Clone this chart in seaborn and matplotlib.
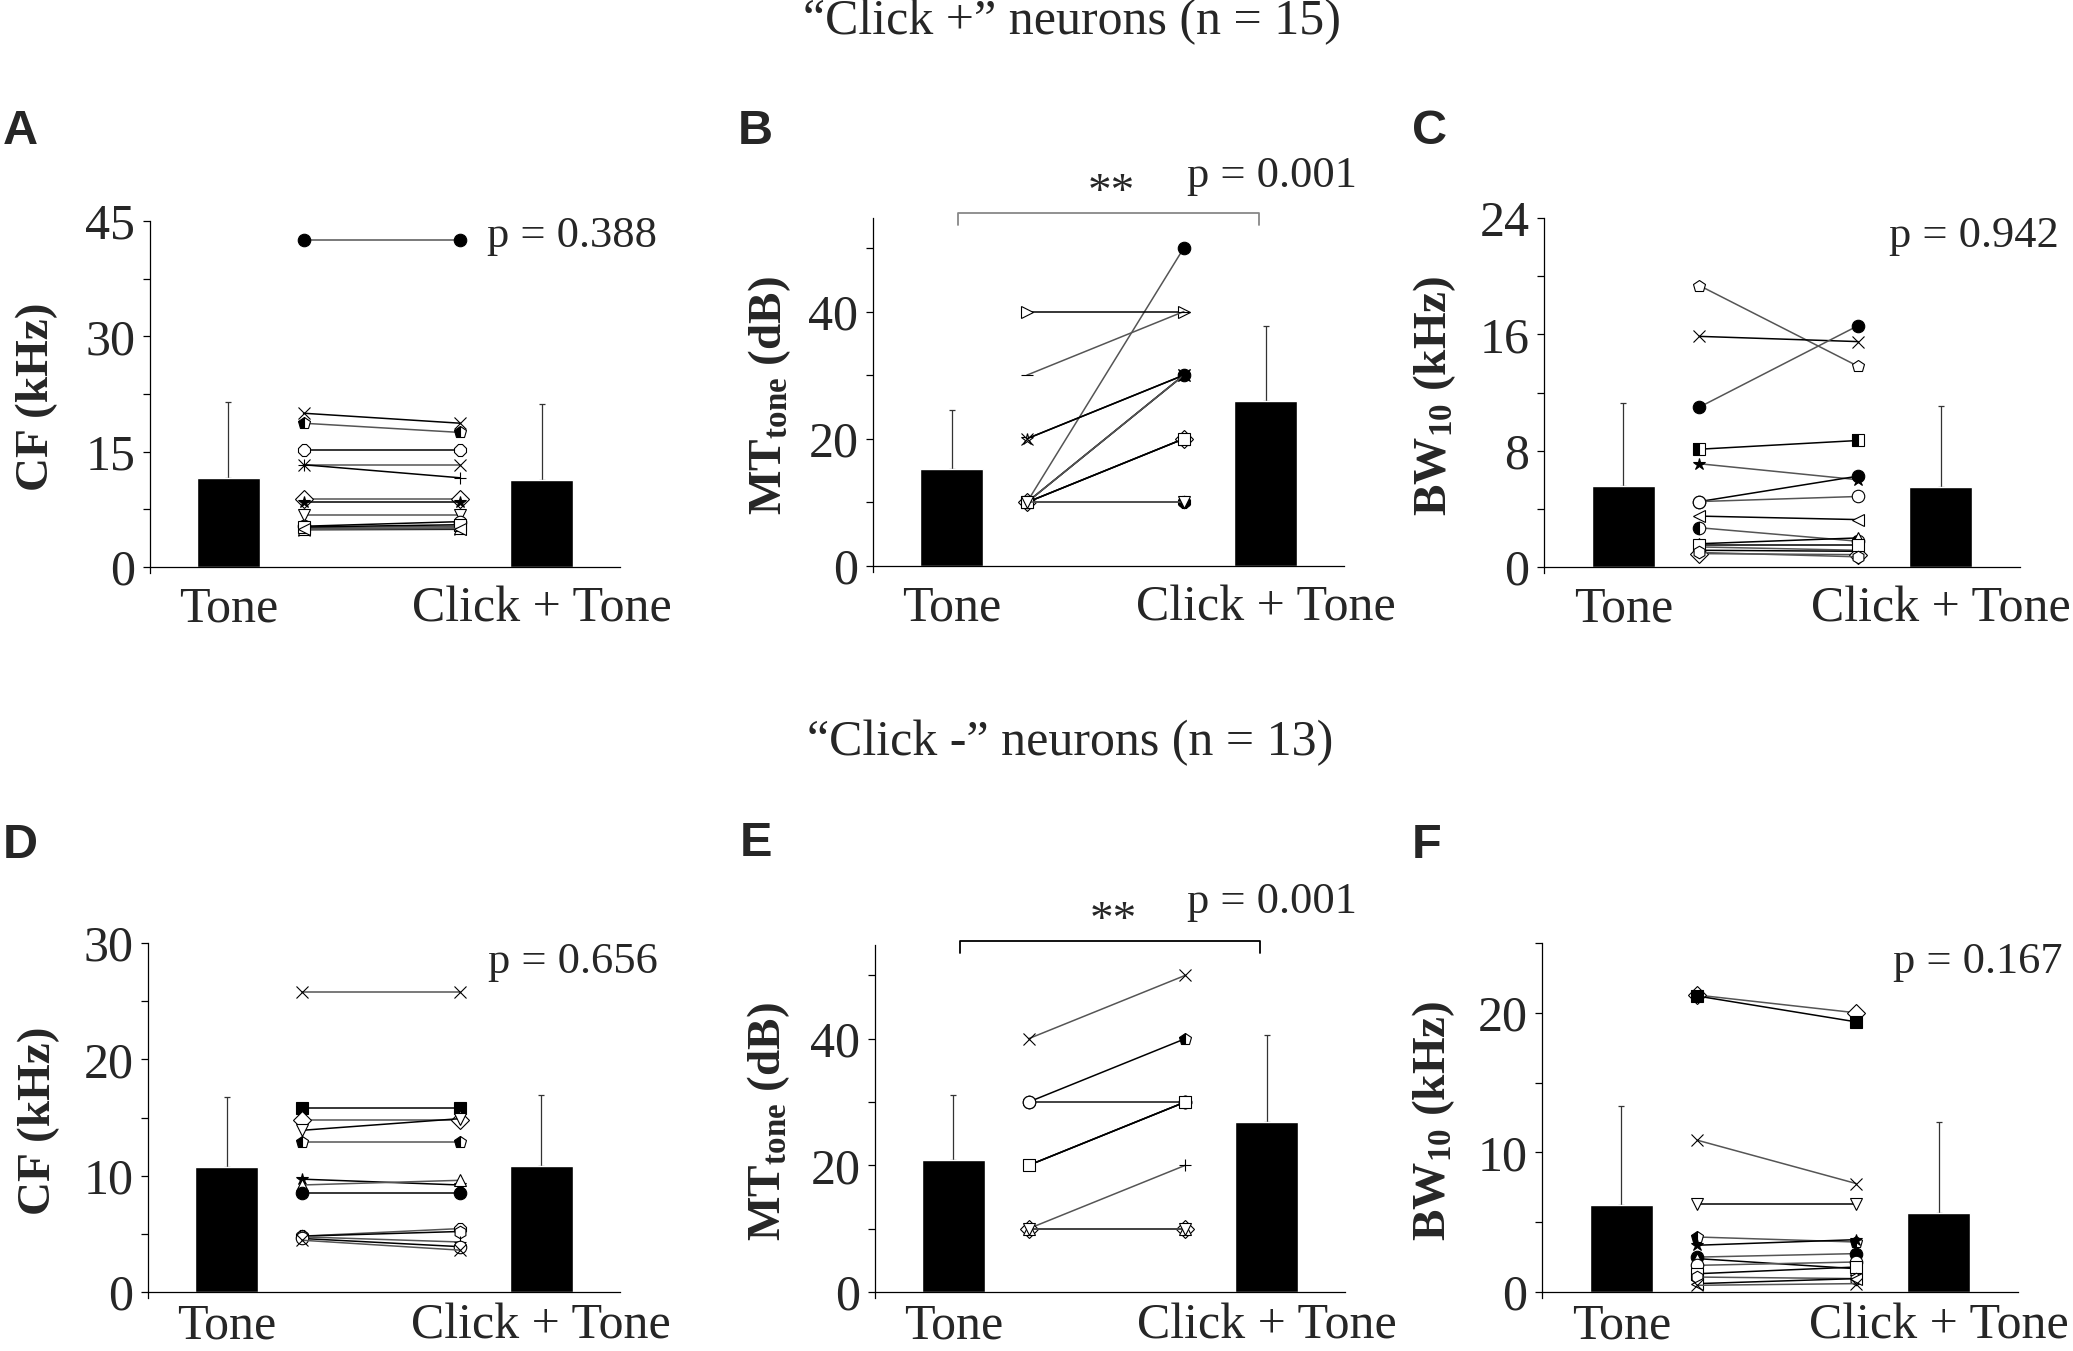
import matplotlib
matplotlib.use('Agg')
import matplotlib.pyplot as plt
import seaborn as sns
from matplotlib.ticker import FixedLocator

sns.set_style('ticks')
plt.rcParams['font.family'] = ['Liberation Serif', 'DejaVu Serif']
plt.rcParams['mathtext.fontset'] = 'custom'
plt.rcParams['mathtext.rm'] = 'Liberation Serif'
plt.rcParams['mathtext.default'] = 'regular'

conditions = ['Tone', 'Click + Tone']
pair_x = [0.24, 0.74]

# A: CF, "Click +" neurons
a_bar = [11.6, 11.3]
a_sd = [9.9, 9.9]
a_tone = [42.5, 20.0, 18.7, 15.2, 13.3, 13.3, 8.8, 8.4, 6.7, 5.3, 5.1, 4.85, 5.0, 5.2, 4.9]
a_click = [42.5, 18.7, 17.5, 15.2, 13.3, 11.6, 8.8, 8.4, 6.7, 5.9, 5.3, 4.9, 5.1, 5.5, 5.0]

# B: MT tone, "Click +" neurons
b_bar = [15.3, 26.0]
b_sd = [9.2, 11.8]
b_tone = [10, 40, 30, 20, 10, 10, 10, 10, 10, 10, 10, 20, 10, 10, 10]
b_click = [50, 40, 40, 30, 30, 30, 20, 20, 10, 10, 10, 30, 30, 20, 10]

# C: BW10, "Click +" neurons
c_bar = [5.56, 5.5]
c_sd = [5.7, 5.58]
c_tone = [19.35, 15.86, 11.0, 8.1, 7.1, 4.5, 4.5, 3.5, 2.7, 1.6, 1.38, 1.15, 0.92, 1.5, 1.0]
c_click = [13.8, 15.5, 16.6, 8.7, 6.0, 6.25, 4.85, 3.26, 1.77, 2.0, 1.15, 1.08, 0.85, 1.5, 0.7]

# D: CF, "Click -" neurons
d_bar = [10.77, 10.82]
d_sd = [6.0, 6.1]
d_tone = [25.75, 15.8, 14.8, 13.9, 12.9, 9.7, 9.2, 8.47, 4.8, 4.8, 4.74, 4.6, 4.45]
d_click = [25.75, 15.8, 14.8, 14.9, 12.9, 9.2, 9.6, 8.47, 5.45, 5.2, 4.3, 3.9, 3.6]

# E: MT tone, "Click -" neurons
e_bar = [20.8, 26.9]
e_sd = [10.3, 13.7]
e_tone = [40, 30, 30, 30, 20, 20, 10, 10, 10, 10, 30, 20, 10]
e_click = [50, 40, 30, 30, 30, 30, 20, 10, 10, 10, 30, 30, 10]

# F: BW10, "Click -" neurons
f_bar = [6.21, 5.69]
f_sd = [7.1, 6.5]
f_tone = [21.27, 21.2, 10.87, 6.33, 3.94, 3.35, 2.5, 2.39, 1.91, 1.31, 1.07, 0.6, 0.48]
f_click = [20.0, 19.35, 7.77, 6.33, 3.58, 3.75, 2.75, 1.67, 2.15, 1.79, 0.96, 0.96, 0.6]

# marker styles per neuron (marker, face)
mk_a = [('o', 'k'), ('x', 'none'), ('p', 'half'), ('8', 'w'), ('x', 'none'), ('+', 'none'),
        ('D', 'w'), ('*', 'k'), ('v', 'w'), ('o', 'w'), ('h', 'w'), ('x', 'none'), ('^', 'w'), ('s', 'w'), ('<', 'w')]
mk_b = [('o', 'k'), ('>', 'w'), ('_', 'none'), ('*', 'w'), ('x', 'none'), ('o', 'k'), ('^', 'w'), ('D', 'w'),
        ('h', 'w'), ('+', 'none'), ('8', 'k'), ('x', 'none'), ('*', 'k'), ('s', 'w'), ('v', 'w')]
mk_c = [('p', 'w'), ('x', 'none'), ('o', 'k'), ('s', 'half'), ('*', 'k'), ('o', 'k'), ('o', 'w'), ('<', 'w'),
        ('o', 'half'), ('^', 'w'), ('x', 'none'), ('v', 'w'), ('D', 'w'), ('s', 'w'), ('h', 'w')]
mk_d = [('x', 'none'), ('s', 'k'), ('D', 'w'), ('v', 'w'), ('p', 'half'), ('*', 'k'), ('^', 'w'), ('o', 'k'),
        ('8', 'w'), ('h', 'w'), ('+', 'none'), ('o', 'w'), ('x', 'none')]
mk_e = [('x', 'none'), ('p', 'half'), ('o', 'k'), ('h', 'k'), ('*', 'w'), ('x', 'none'), ('+', 'none'),
        ('8', 'w'), ('D', 'w'), ('^', 'w'), ('o', 'w'), ('s', 'w'), ('v', 'w')]
mk_f = [('D', 'w'), ('s', 'k'), ('x', 'none'), ('v', 'w'), ('p', 'half'), ('*', 'k'), ('o', 'k'), ('^', 'w'),
        ('o', 'w'), ('s', 'w'), ('h', 'w'), ('<', 'w'), ('x', 'none')]

W, H = 2073, 1351
fig = plt.figure(figsize=(W / 100, H / 100), dpi=100)

# panel geometry in pixels: left, right, y of zero, y of top, top value
geo = {
    'A': (150, 620, 567, 221, 45),
    'B': (873, 1344, 566, 218, 54.7),
    'C': (1544, 2020, 567, 218, 24),
    'D': (148, 620, 1292, 943, 30),
    'E': (875, 1345, 1292, 945, 54.8),
    'F': (1542, 2018, 1292, 943, 25),
}
ext = 6


def make_ax(key):
    left, right, y0, top, hi = geo[key]
    rect = [left / W, 1 - (y0 + ext) / H, (right - left) / W, (y0 + ext - top) / H]
    ax = fig.add_axes(rect)
    ax.set_facecolor('white')
    return ax, -ext * hi / (y0 - top), hi


def panel(key, bar, sd, tone, click, marks, ylabel, major, minor, ptext, ppos, labx,
          xpad=14, bracket=None):
    ax, lo, hi = make_ax(key)
    ax.errorbar([0, 1], bar, yerr=[[0, 0], sd], fmt='none', ecolor='#333333',
                elinewidth=0.9, capsize=2.5, capthick=0.9, zorder=1)
    sns.barplot(x=conditions, y=bar, color='black', width=0.2, saturation=1,
                errorbar=None, ax=ax, zorder=2)
    for i, (t, c) in enumerate(zip(tone, click)):
        m, face = marks[i % len(marks)]
        kw = dict(marker=m, markersize=9, markeredgecolor='black', markeredgewidth=0.8)
        if face == 'half':
            kw.update(markerfacecolor='black', markerfacecoloralt='white', fillstyle='left')
        else:
            kw.update(markerfacecolor=face)
        lc = 'black' if i % 2 else '#555555'
        sns.lineplot(x=pair_x, y=[t, c], color=lc, linewidth=1.1, ax=ax, zorder=3, **kw)

    ax.set_xlim(-0.25, 1.25)
    ax.set_ylim(lo, hi)
    ax.spines['top'].set_visible(False)
    ax.spines['right'].set_visible(False)
    ax.spines['bottom'].set_position(('data', 0))
    for s in ['left', 'bottom']:
        ax.spines[s].set_linewidth(0.9)
        ax.spines[s].set_color('black')
    ax.yaxis.set_major_locator(FixedLocator(major))
    ax.yaxis.set_minor_locator(FixedLocator(minor))
    ax.tick_params(axis='y', which='both', direction='out', length=5, width=0.9,
                   pad=5.5, labelsize=36, color='black')
    ax.tick_params(axis='x', length=0, pad=xpad, labelsize=36)
    ax.set_xlabel('')
    ax.set_ylabel(ylabel, fontsize=34, fontweight='bold')
    ax.yaxis.set_label_coords(labx, 0.5)
    ax.text(ppos[0], ppos[1], ptext, transform=ax.transAxes, fontsize=32,
            ha='left', va='baseline')
    if bracket is not None:
        by, bt, bcol = bracket
        ax.plot([0.02, 0.02, 0.98, 0.98], [bt, by, by, bt], color=bcol,
                linewidth=1.3, clip_on=False)
        ax.text(0.51, by + 3.0, '**', fontsize=34, ha='center', va='center')
    return ax


panel('A', a_bar, a_sd, a_tone, a_click, mk_a, 'CF (kHz)', [0, 15, 30, 45], [7.5, 22.5, 37.5],
      'p = 0.388', (0.716, 0.925), -0.196)
panel('B', b_bar, b_sd, b_tone, b_click, mk_b, r'MT$_{\mathregular{tone}}$ (dB)', [0, 20, 40], [10, 30, 50],
      'p = 0.001', (0.666, 1.088), -0.17, bracket=(55.5, 53.6, '#888888'))
panel('C', c_bar, c_sd, c_tone, c_click, mk_c, r'BW$_{\mathregular{10}}$ (kHz)', [0, 8, 16, 24], [4, 12, 20],
      'p = 0.942', (0.725, 0.918), -0.18)
panel('D', d_bar, d_sd, d_tone, d_click, mk_d, 'CF (kHz)', [0, 10, 20, 30], [5, 15, 25],
      'p = 0.656', (0.72, 0.915), -0.187, xpad=8)
panel('E', e_bar, e_sd, e_tone, e_click, mk_e, r'MT$_{\mathregular{tone}}$ (dB)', [0, 20, 40], [10, 30, 50],
      'p = 0.001', (0.663, 1.091), -0.177, xpad=8, bracket=(55.5, 53.5, 'black'))
panel('F', f_bar, f_sd, f_tone, f_click, mk_f, r'BW$_{\mathregular{10}}$ (kHz)', [0, 10, 20], [5, 15, 25],
      'p = 0.167', (0.737, 0.915), -0.178, xpad=8)

fig.text(1072 / W, 1 - 22 / H, '\u201cClick +\u201d neurons (n = 15)', fontsize=36, ha='center', va='center')
fig.text(1070 / W, 1 - 743 / H, '\u201cClick -\u201d neurons (n = 13)', fontsize=36, ha='center', va='center')

letters = [('A', 3, 131), ('B', 738, 131), ('C', 1412, 131),
           ('D', 3, 845), ('E', 740, 843), ('F', 1412, 845)]
for lab, lx, ly in letters:
    fig.text(lx / W, 1 - ly / H, lab, fontsize=35, fontweight='bold',
             family=['Liberation Sans', 'DejaVu Sans'], ha='left', va='center')

fig.savefig('out.png', dpi=100, facecolor='white')
